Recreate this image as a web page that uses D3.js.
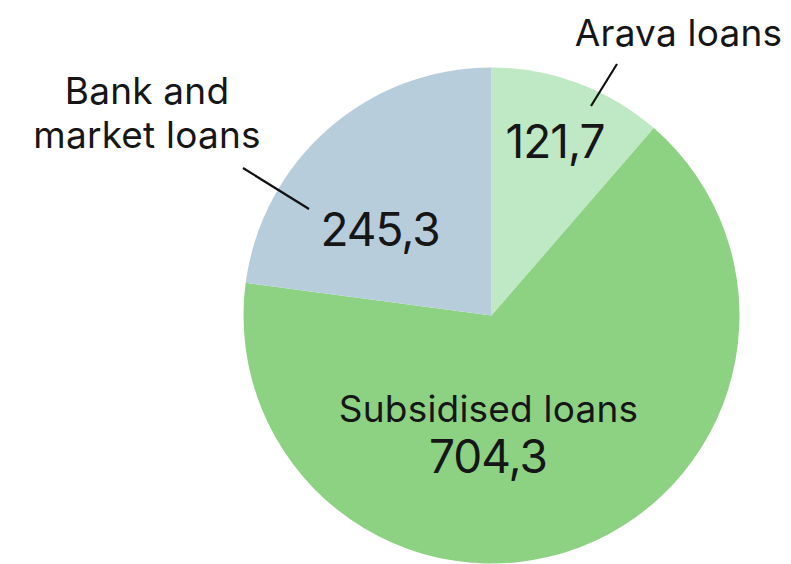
<!DOCTYPE html>
<html>
<head>
<meta charset="utf-8">
<script src="https://cdn.jsdelivr.net/npm/d3@7"></script>
<style>
  html, body { margin: 0; padding: 0; background: #fff; }
  svg { display: block; }
  text { font-family: Inter, "Noto Sans", sans-serif; fill: #161616; }
</style>
</head>
<body>
<svg id="chart" width="791" height="564"></svg>
<script>
// Loan portfolio breakdown
const categories = ["Arava loans", "Subsidised loans", "Bank and market loans"];
const values = [121.7, 704.3, 245.3];
const valueLabels = ["121,7", "704,3", "245,3"];
const colors = ["#bfe8c4", "#8dd283", "#b8cddc"];

const W = 791, H = 564;
const cx = 491.5, cy = 315.5, R = 248;

const svg = d3.select("#chart");
const g = svg.append("g").attr("transform", `translate(${cx},${cy})`);

const pie = d3.pie().sort(null).value(d => d.value);
const arc = d3.arc().innerRadius(0).outerRadius(R);

const data = categories.map((c, i) => ({ name: c, value: values[i], label: valueLabels[i], color: colors[i] }));
const arcs = pie(data);

g.selectAll("path.slice")
  .data(arcs)
  .join("path")
  .attr("class", "slice")
  .attr("d", arc)
  .attr("fill", d => d.data.color);

// Label placement, relative to pie centre
const layout = {
  "Arava loans": {
    value: [63.5, -158], name: [[187, -270]],
    leader: [[99.5, -209.5], [125.5, -251.5]]
  },
  "Subsidised loans": {
    value: [-3.5, 157], name: [[-3, 106]],
    leader: null
  },
  "Bank and market loans": {
    value: [-111.5, -70], name: [[-344.5, -212], [-344.5, -168]],
    leader: [[-248.5, -147.5], [-182.5, -106.5]]
  }
};

const nameLines = {
  "Arava loans": ["Arava loans"],
  "Subsidised loans": ["Subsidised loans"],
  "Bank and market loans": ["Bank and", "market loans"]
};

arcs.forEach(a => {
  const L = layout[a.data.name];
  if (L.leader) {
    g.append("line")
      .attr("x1", L.leader[0][0]).attr("y1", L.leader[0][1])
      .attr("x2", L.leader[1][0]).attr("y2", L.leader[1][1])
      .attr("stroke", "#111").attr("stroke-width", 2.2);
  }
  nameLines[a.data.name].forEach((t, i) => {
    g.append("text")
      .attr("x", L.name[i][0]).attr("y", L.name[i][1])
      .attr("text-anchor", "middle")
      .style("font-size", "37px")
      .style("letter-spacing", "0.2px")
      .text(t);
  });
  g.append("text")
    .attr("x", L.value[0]).attr("y", L.value[1])
    .attr("text-anchor", "middle")
    .style("font-size", "46px")
    .style("letter-spacing", "-1px")
    .text(a.data.label);
});
</script>
</body>
</html>
